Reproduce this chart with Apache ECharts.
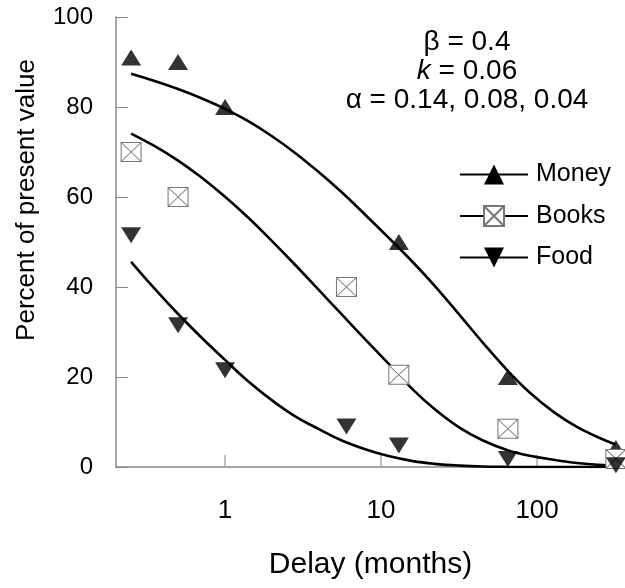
<!DOCTYPE html>
<html>
<head>
<meta charset="utf-8">
<script src="https://cdn.jsdelivr.net/npm/echarts@6/dist/echarts.min.js"></script>
<style>
html,body{margin:0;padding:0;background:#fff;}
#c{width:625px;height:588px;}
</style>
</head>
<body>
<div id="c"></div>
<script>
// Observed data (delay in months, percent of present value)
var moneyDelays = [0.25, 0.5, 1, 13, 65, 320];
var moneyValues = [91, 90, 80, 50, 20, 4.2];
var booksDelays = [0.25, 0.5, 6, 13, 65, 320];
var booksValues = [70, 60, 40, 20.5, 8.5, 1.8];
var foodDelays = [0.25, 0.5, 1, 6, 13, 65, 320];
var foodValues = [51.5, 31.5, 21.5, 9, 4.8, 1.8, 0.4];

// Fitted curves
var curveDelays = [0.25, 0.35, 0.5, 0.7, 1, 1.4, 2, 2.8, 4, 5.6, 8, 11, 16, 22, 32, 45, 64, 90, 128, 180, 250, 320];
var moneyCurve = [87.4, 85.85, 84.0, 82.0, 79.6, 76.9, 73.5, 69.85, 65.5, 61.05, 55.9, 51.2, 45.5, 40.3, 33.7, 27.6, 21.6, 16.5, 12.2, 8.9, 6.5, 5.0];
var booksCurve = [74.1, 71.4, 68.1, 64.45, 60.05, 55.5, 50.2, 45.0, 39.3, 33.9, 28.2, 23.2, 17.2, 12.9, 8.7, 5.9, 3.8, 2.5, 1.6, 0.9, 0.5, 0.3];
var foodCurve = [45.6, 39.8, 34.0, 28.9, 23.8, 19.1, 14.8, 11.3, 8.4, 5.9, 3.9, 2.5, 1.3, 0.7, 0.3, 0.1, 0.03, 0, 0, 0, 0, 0];

var yTicks = [0, 20, 40, 60, 80, 100];
var xTickLabels = [1, 10, 100];

function pairs(xs, ys) { return xs.map(function (x, i) { return [x, ys[i]]; }); }

var FONT = '"Liberation Sans", Arial, Helvetica, sans-serif';
var upTri = 'triangle';
var downTri = 'path://M0,0L20,0L10,16Z';
var boxX = 'path://M0,0L20,0L20,20L0,20Z M0,0L20,20 M20,0L0,20';

var chart = echarts.init(document.getElementById('c'), null, {renderer: 'canvas'});
chart.setOption({
  animation: false,
  backgroundColor: '#fff',
  grid: {left: 116, top: 17, right: 0, bottom: 121, containLabel: false},
  xAxis: {
    type: 'log', logBase: 10, min: 0.2, max: 366,
    name: 'Delay (months)', nameLocation: 'middle', nameGap: 83,
    nameTextStyle: {fontFamily: FONT, fontSize: 30, color: '#000'},
    axisLine: {show: true, lineStyle: {color: '#888', width: 1.5}},
    axisTick: {show: true, inside: true, length: 12, lineStyle: {color: '#aaa', width: 1.5}},
    axisLabel: {
      fontFamily: FONT, fontSize: 26, color: '#000', margin: 31,
      showMinLabel: false, showMaxLabel: false,
      formatter: function (v) {
        for (var i = 0; i < xTickLabels.length; i++) {
          if (Math.abs(v - xTickLabels[i]) < 1e-6 * xTickLabels[i]) return String(xTickLabels[i]);
        }
        return '';
      }
    },
    splitLine: {show: false},
    minorTick: {show: false}
  },
  yAxis: {
    type: 'value', min: yTicks[0], max: yTicks[yTicks.length - 1], interval: 20,
    axisLine: {show: true, lineStyle: {color: '#888', width: 1.5}},
    axisTick: {show: true, inside: true, length: 12, lineStyle: {color: '#888', width: 1}},
    axisLabel: {fontFamily: FONT, fontSize: 24, color: '#000', margin: 23},
    splitLine: {show: false}
  },
  legend: {
    data: ['Money', 'Books', 'Food'],
    orient: 'vertical', left: 459, top: 162, padding: 0,
    itemWidth: 68, itemHeight: 25, itemGap: 16.5,
    textStyle: {fontFamily: FONT, fontSize: 25, color: '#000', padding: [0, 0, 0, 3]},
    lineStyle: {width: 2, color: '#000'},
    selectedMode: false
  },
  graphic: [
    {type: 'text', x: 27, y: 200, rotation: Math.PI / 2,
      style: {text: 'Percent of present value', fontFamily: FONT, fontSize: 26, fill: '#000', align: 'center', verticalAlign: 'middle'}},
    {type: 'text', x: 467, y: 42, style: {text: 'β = 0.4', fontFamily: FONT, fontSize: 28, fill: '#000', align: 'center', verticalAlign: 'middle'}},
    {type: 'text', x: 467, y: 71, style: {text: '{i|k} = 0.06', fontFamily: FONT, fontSize: 28, fill: '#000', align: 'center', verticalAlign: 'middle',
      rich: {i: {fontStyle: 'italic', fontFamily: FONT, fontSize: 28, fill: '#000'}}}},
    {type: 'text', x: 467, y: 100, style: {text: 'α = 0.14, 0.08, 0.04', fontFamily: FONT, fontSize: 28, fill: '#000', align: 'center', verticalAlign: 'middle'}}
  ],
  series: [
    {name: 'Money', type: 'line', smooth: 0.4, showSymbol: false, symbol: upTri, z: 2,
      data: pairs(curveDelays, moneyCurve), lineStyle: {color: '#000', width: 2.6},
      itemStyle: {color: '#000'}},
    {name: 'Books', type: 'line', smooth: 0.4, showSymbol: false, symbol: boxX, z: 2,
      data: pairs(curveDelays, booksCurve), lineStyle: {color: '#000', width: 2.6},
      itemStyle: {color: '#fff', borderColor: '#777', borderWidth: 1}},
    {name: 'Food', type: 'line', smooth: 0.4, showSymbol: false, symbol: downTri, z: 2,
      data: pairs(curveDelays, foodCurve), lineStyle: {color: '#000', width: 2.6},
      itemStyle: {color: '#000'}},
    {name: 'Money data', type: 'scatter', symbol: upTri, symbolSize: [20, 16], z: 3,
      data: pairs(moneyDelays, moneyValues), itemStyle: {color: '#000'}},
    {name: 'Books data', type: 'scatter', symbol: boxX, symbolSize: [20, 19], z: 3,
      data: pairs(booksDelays, booksValues), itemStyle: {color: '#fff', borderColor: '#777', borderWidth: 1, opacity: 1}},
    {name: 'Food data', type: 'scatter', symbol: downTri, symbolSize: [20, 16], z: 3,
      data: pairs(foodDelays, foodValues), itemStyle: {color: '#000'}}
  ]
});
</script>
</body>
</html>
